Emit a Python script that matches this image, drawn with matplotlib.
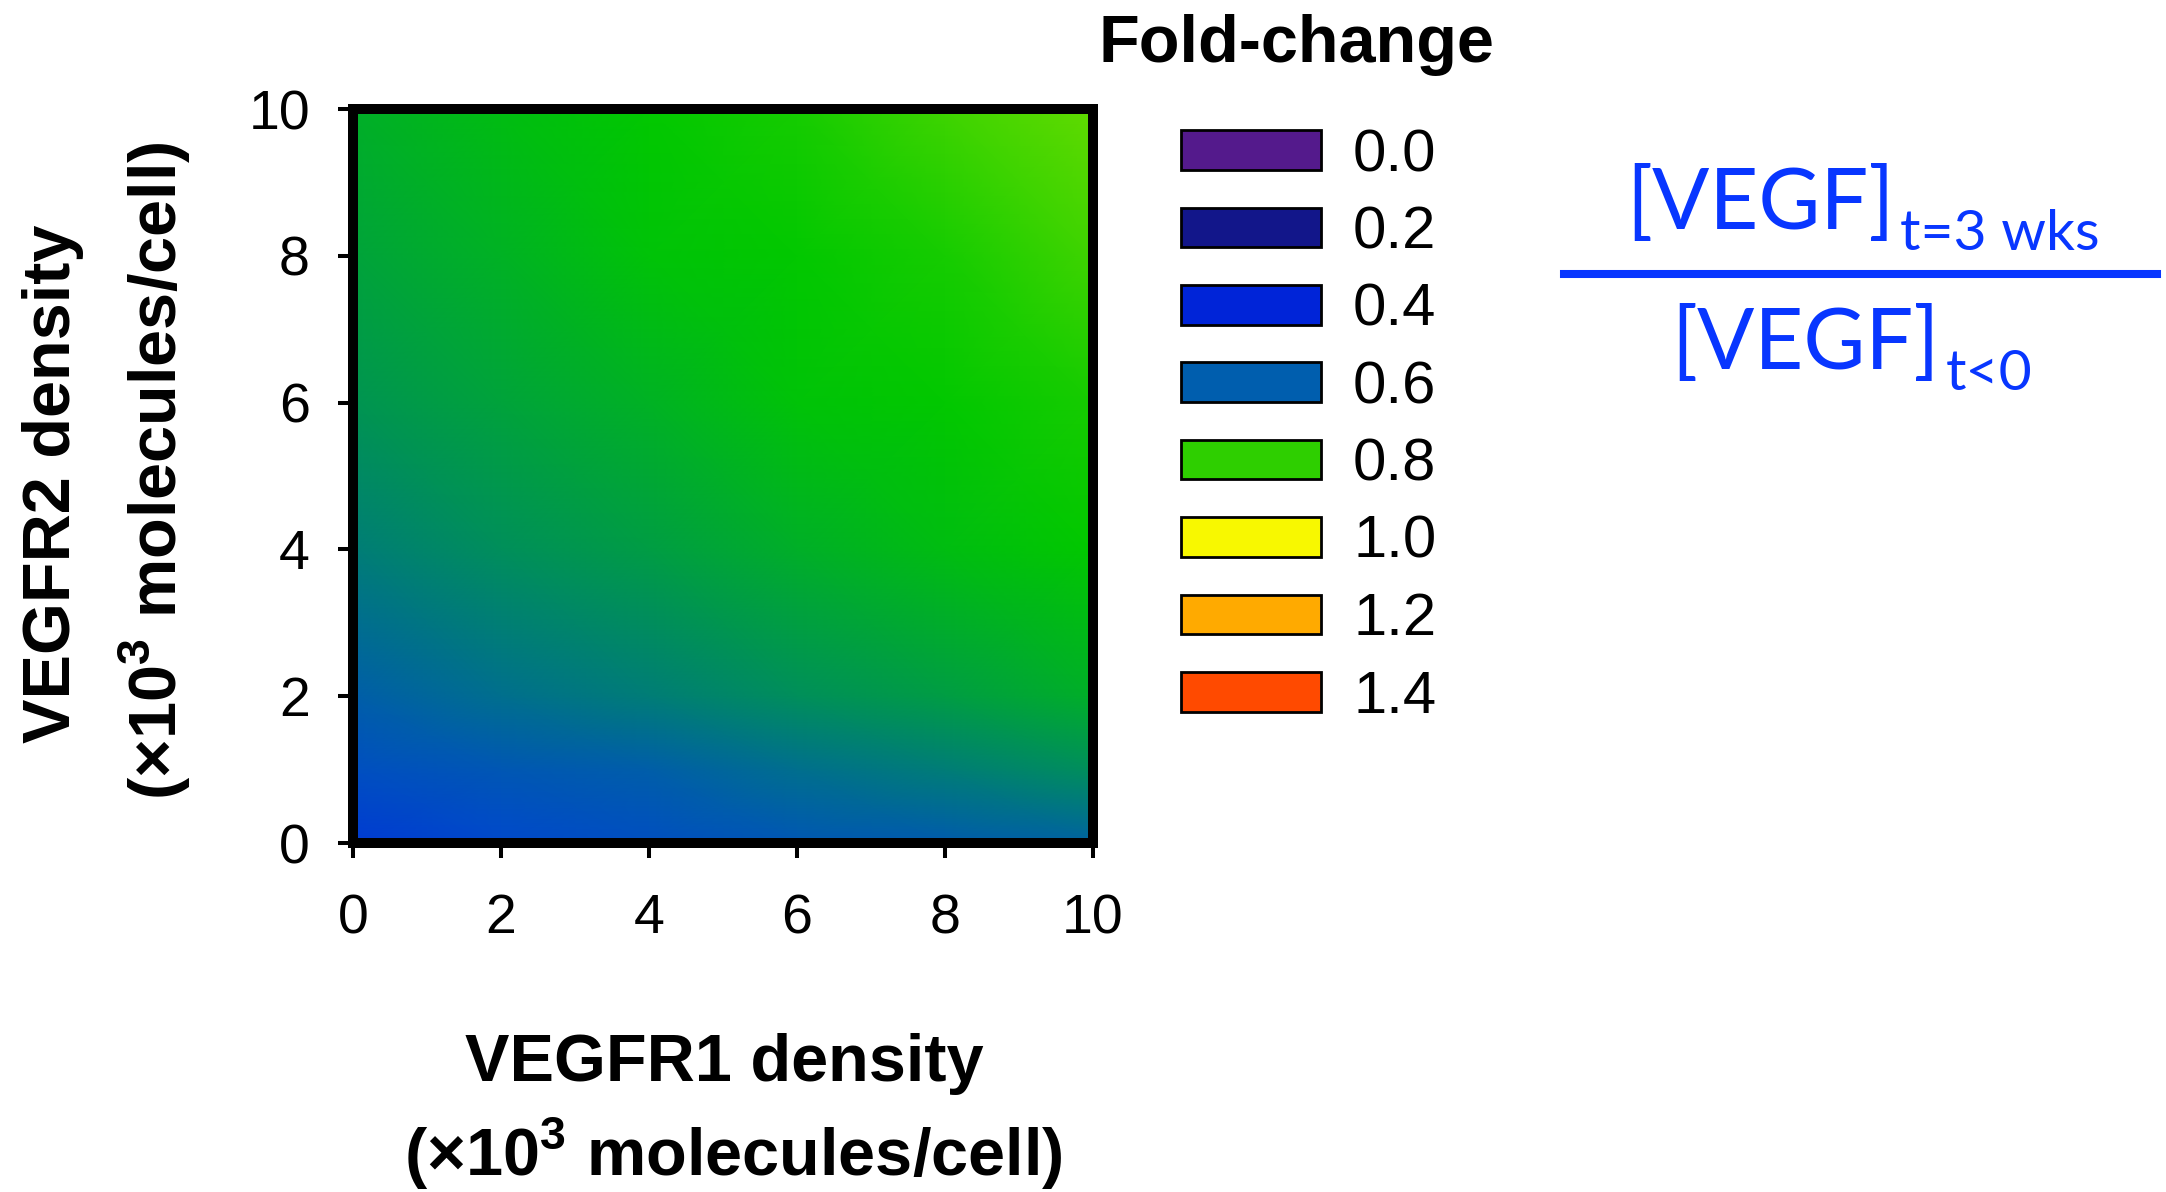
import numpy as np
import matplotlib
matplotlib.use("Agg")
import matplotlib.pyplot as plt
from matplotlib.colors import LinearSegmentedColormap, Normalize
from matplotlib.patches import Patch
from matplotlib.lines import Line2D

plt.rcParams['font.family'] = ['Liberation Sans', 'DejaVu Sans']
plt.rcParams['mathtext.fontset'] = 'custom'
plt.rcParams['mathtext.rm'] = 'Liberation Sans'
plt.rcParams['mathtext.bf'] = 'Liberation Sans:bold'

# receptor densities (x10^3 molecules/cell)
r1_density = [0, 2, 4, 6, 8, 10]
r2_density = [0, 1, 2, 4, 6, 8, 10]
# fold-change, rows = VEGFR2, cols = VEGFR1
fold_change = [
    [0.47, 0.51, 0.54, 0.57, 0.59, 0.61],
    [0.54, 0.57, 0.60, 0.63, 0.66, 0.69],
    [0.60, 0.63, 0.66, 0.69, 0.72, 0.75],
    [0.66, 0.69, 0.72, 0.75, 0.78, 0.80],
    [0.70, 0.73, 0.76, 0.79, 0.80, 0.82],
    [0.73, 0.76, 0.79, 0.80, 0.82, 0.85],
    [0.75, 0.78, 0.80, 0.82, 0.85, 0.88],
]

legend_levels = [0.0, 0.2, 0.4, 0.6, 0.8, 1.0, 1.2, 1.4]
legend_colors = ['#541A8C', '#12168A', '#0024D8', '#005EAE',
                 '#2ECF00', '#F8F800', '#FFAA00', '#FF4A00']
# colour scale used by the map itself
cmap_colors = ['#541A8C', '#12168A', '#0024D8', '#0046D0', '#005EA8',
               '#00C800', '#F8F800', '#FFAA00', '#FF4A00']
cmap_levels = [0.0, 0.2, 0.4, 0.5, 0.6, 0.8, 1.0, 1.2, 1.4]

vmin, vmax = 0.0, 1.4
cmap = LinearSegmentedColormap.from_list(
    'fold', [((v - vmin) / (vmax - vmin), c) for v, c in zip(cmap_levels, cmap_colors)])

W, H = 2166, 1192
fig = plt.figure(figsize=(W / 100, H / 100), dpi=100)
ax = fig.add_axes([353 / W, 1 - 843 / H, (1093 - 353) / W, (843 - 109) / H])

X, Y = np.meshgrid(r1_density, r2_density)
ax.pcolormesh(X, Y, np.array(fold_change), shading='gouraud', cmap=cmap,
              norm=Normalize(vmin, vmax))
ax.set_xlim(0, 10)
ax.set_ylim(0, 10)
ax.set_xticks(range(0, 11, 2))
ax.set_yticks(range(0, 11, 2))
for sp in ax.spines.values():
    sp.set_linewidth(7.2)
ax.tick_params(direction='out', length=11, width=2.9, labelsize=40)
ax.tick_params(axis='x', pad=25)
ax.tick_params(axis='y', pad=20)

# axis titles
fig.text(724 / W, 1 - 1081 / H, 'VEGFR1 density', ha='center', va='baseline',
         fontsize=48, fontweight='bold')
fig.text(733 / W, 1 - 1176 / H, r'(×10$^{\mathbf{3}}$ molecules/cell)', ha='center',
         va='baseline', fontsize=48, fontweight='bold')
fig.text(70 / W, 1 - 484 / H, 'VEGFR2 density', ha='center', va='baseline',
         rotation=90, rotation_mode='anchor', fontsize=48, fontweight='bold')
fig.text(177 / W, 1 - 471 / H, r'(×10$^{\mathbf{3}}$ molecules/cell)', ha='center',
         va='baseline', rotation=90, rotation_mode='anchor', fontsize=48,
         fontweight='bold')

# legend
fig.text(1296 / W, 1 - 62 / H, 'Fold-change', ha='center', va='baseline',
         fontsize=48, fontweight='bold')
handles = [Patch(facecolor=c, edgecolor='black', linewidth=2) for c in legend_colors]
labels = ['%.1f' % v for v in legend_levels]
fig.legend(handles, labels, loc='upper left', bbox_to_anchor=(1181 / W, 1 - 128 / H),
           frameon=False, fontsize=43, handlelength=2.34, handleheight=0.64,
           labelspacing=0.375, handletextpad=0.54, borderpad=0, borderaxespad=0)

# ratio definition
blue = '#0836FF'
ff = ['Lato', 'DejaVu Sans']
fig.text(1895 / W, 1 - 229 / H, '[VEGF]', ha='right', va='baseline', fontsize=61,
         color=blue, family=ff)
fig.text(1900 / W, 1 - 250 / H, 't=3 wks', ha='left', va='baseline', fontsize=41,
         color=blue, family=ff)
fig.add_artist(Line2D([1564 / W, 2157 / W], [1 - 274 / H, 1 - 274 / H],
                      lw=5.8, color=blue))
fig.text(1940 / W, 1 - 369 / H, '[VEGF]', ha='right', va='baseline', fontsize=61,
         color=blue, family=ff)
fig.text(1946 / W, 1 - 390 / H, 't<0', ha='left', va='baseline', fontsize=41,
         color=blue, family=ff)

fig.savefig('out.png', dpi=100)
